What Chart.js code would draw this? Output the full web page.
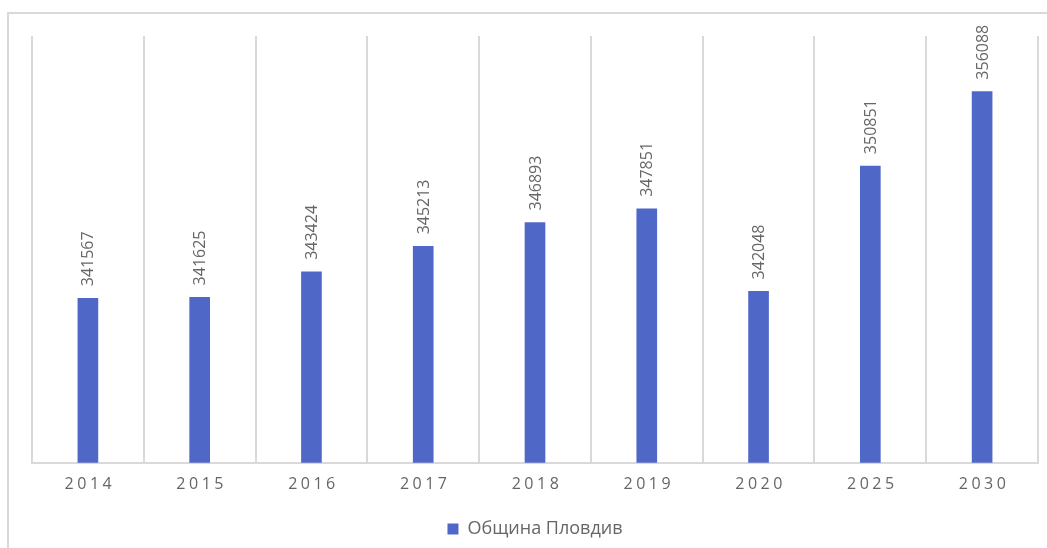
<!DOCTYPE html>
<html>
<head>
<meta charset="utf-8">
<script src="https://cdn.jsdelivr.net/npm/chart.js@4"></script>
<style>
    html, body { margin: 0; padding: 0; background: #fff; overflow: hidden; }
    #frame { position: absolute; left: 7px; top: 12px; width: 1100px; height: 600px; border: 2px solid #d9d9d9; }
    #wrap { position: absolute; left: 0; top: 0; width: 1047px; height: 548px; }
</style>
</head>
<body>
<div id="frame"></div>
<div id="wrap"><canvas id="grafica" width="1047" height="548"></canvas></div>
<script>
// Население на община Пловдив по години
const anios = ['2014', '2015', '2016', '2017', '2018', '2019', '2020', '2025', '2030'];
const poblacion = [341567, 341625, 343424, 345213, 346893, 347851, 342048, 350851, 356088];
const nombreSerie = 'Община Пловдив';

const colorBarra = '#4f68c8';
const colorTexto = '#666666';
const colorRejilla = '#d9d9d9';

// etiquetas verticales encima de cada barra
const etiquetasBarras = {
    id: 'etiquetasBarras',
    afterDatasetsDraw(chart) {
        const ctx = chart.ctx;
        const meta = chart.getDatasetMeta(0);
        ctx.save();
        ctx.font = '16px "Open Sans"';
        ctx.fillStyle = colorTexto;
        ctx.textAlign = 'left';
        ctx.textBaseline = 'middle';
        meta.data.forEach((bar, i) => {
            ctx.save();
            ctx.translate(bar.x + 1, bar.y - 12);
            ctx.rotate(-Math.PI / 2);
            ctx.fillText(String(poblacion[i]), 0, 0);
            ctx.restore();
        });
        ctx.restore();
    }
};

// espaciado de letras en los años del eje x
const espaciadoEjeX = {
    id: 'espaciadoEjeX',
    beforeDraw(chart) {
        const escala = chart.scales.x;
        if (escala._conEspaciado) return;
        const original = escala.drawLabels;
        escala.drawLabels = function (area) {
            const ctx = this.ctx;
            ctx.save();
            ctx.letterSpacing = '3.5px';
            ctx.translate(2, 0);
            original.call(this, area);
            ctx.restore();
        };
        escala._conEspaciado = true;
    }
};

const ctxGrafica = document.getElementById('grafica').getContext('2d');
new Chart(ctxGrafica, {
    type: 'bar',
    data: {
        labels: anios,
        datasets: [{
            label: nombreSerie,
            data: poblacion,
            backgroundColor: colorBarra,
            barThickness: 20
        }]
    },
    options: {
        responsive: false,
        animation: false,
        layout: {
            padding: { left: 32, right: 9, top: 36, bottom: 0 }
        },
        scales: {
            y: {
                display: false,
                min: 330000,
                max: 360000
            },
            x: {
                offset: true,
                grid: {
                    offset: true,
                    color: colorRejilla,
                    lineWidth: 2,
                    drawTicks: false
                },
                border: { color: colorRejilla, width: 2 },
                ticks: {
                    color: colorTexto,
                    padding: 12,
                    font: { family: '"Open Sans"', size: 16 }
                }
            }
        },
        plugins: {
            legend: {
                position: 'bottom',
                labels: {
                    boxWidth: 11,
                    boxHeight: 11,
                    padding: 14,
                    color: colorTexto,
                    font: { family: '"Open Sans"', size: 18 }
                }
            },
            tooltip: { enabled: false }
        }
    },
    plugins: [etiquetasBarras, espaciadoEjeX]
});
</script>
</body>
</html>
